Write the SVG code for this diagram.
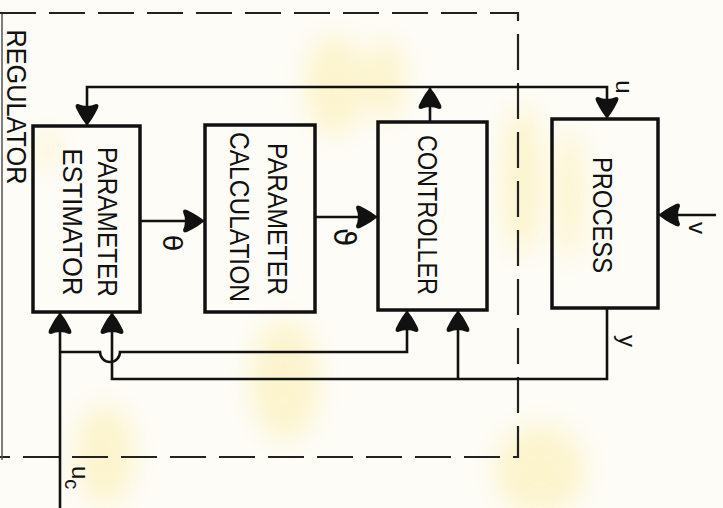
<svg xmlns="http://www.w3.org/2000/svg" width="723" height="508" viewBox="0 0 723 508">
  <defs>
    <style>
      .box { fill: none; stroke: #111; stroke-width: 3.5; }
      .wire { fill: none; stroke: #111; stroke-width: 2.6; }
      .dash { fill: none; stroke: #222; stroke-width: 2.2; stroke-dasharray: 36 13; }
      .lbl { font-family: "Liberation Sans", Arial, sans-serif; fill: #111; }
      .big { font-size: 27.5px; }
      .sym { font-size: 24px; }
    </style>
    <marker id="ah" viewBox="-23 -13 25 26" refX="0" refY="0" markerWidth="25" markerHeight="26" markerUnits="userSpaceOnUse" orient="auto">
      <path d="M0,0 Q-3,-4 -17,-11 Q-21,-12.5 -21,-9 Q-17,0 -21,9 Q-21,12.5 -17,11 Q-3,4 0,0 Z" fill="#111"/>
    </marker>
    <filter id="blur" x="-50%" y="-50%" width="200%" height="200%">
      <feGaussianBlur stdDeviation="12"/>
    </filter>
  </defs>

  <rect width="723" height="508" fill="#fdfcf6"/>
  <g id="stains" fill="#fbe57a" opacity="0.32" filter="url(#blur)">
    <ellipse cx="335" cy="85" rx="30" ry="50"/>
    <ellipse cx="385" cy="80" rx="20" ry="40"/>
    <ellipse cx="522" cy="180" rx="20" ry="75"/>
    <ellipse cx="570" cy="195" rx="14" ry="65"/>
    <ellipse cx="285" cy="380" rx="35" ry="60"/>
    <ellipse cx="105" cy="455" rx="30" ry="50"/>
    <ellipse cx="540" cy="470" rx="45" ry="45"/>
    <ellipse cx="48" cy="150" rx="10" ry="18"/>
  </g>

  <g id="regulator-boundary">
    <path class="dash" d="M0,13 H518 V457 H0"/>
    <line x1="2" y1="14" x2="2" y2="460" stroke="#555" stroke-width="1.5"/>
    <text class="lbl big" transform="translate(7,107) rotate(90)" text-anchor="middle" textLength="155" lengthAdjust="spacingAndGlyphs">REGULATOR</text>
  </g>

  <g id="parameter-estimator">
    <rect class="box" x="33" y="126" width="107" height="186"/>
    <text class="lbl big" transform="translate(98,222) rotate(90)" text-anchor="middle" textLength="150" lengthAdjust="spacingAndGlyphs">PARAMETER</text>
    <text class="lbl big" transform="translate(63,222) rotate(90)" text-anchor="middle" textLength="147" lengthAdjust="spacingAndGlyphs">ESTIMATOR</text>
  </g>

  <g id="parameter-calculation">
    <rect class="box" x="205" y="125" width="110" height="187"/>
    <text class="lbl big" transform="translate(268,219) rotate(90)" text-anchor="middle" textLength="152" lengthAdjust="spacingAndGlyphs">PARAMETER</text>
    <text class="lbl big" transform="translate(230,217) rotate(90)" text-anchor="middle" textLength="170" lengthAdjust="spacingAndGlyphs">CALCULATION</text>
  </g>

  <g id="controller">
    <rect class="box" x="378" y="122" width="109" height="188"/>
    <text class="lbl big" transform="translate(418,215) rotate(90)" text-anchor="middle" textLength="160" lengthAdjust="spacingAndGlyphs">CONTROLLER</text>
  </g>

  <g id="process">
    <rect class="box" x="552" y="119" width="106" height="189"/>
    <text class="lbl big" transform="translate(593,215) rotate(90)" text-anchor="middle" textLength="116" lengthAdjust="spacingAndGlyphs">PROCESS</text>
  </g>

  <g id="connectors">
    <path class="wire" d="M430,122 V88" marker-end="url(#ah)"/>
    <path class="wire" d="M430,87 H87 V125" marker-end="url(#ah)"/>
    <path class="wire" d="M430,87 H607 V118" marker-end="url(#ah)"/>
    <path class="wire" d="M140,221 H204" marker-end="url(#ah)"/>
    <path class="wire" d="M315,217 H377" marker-end="url(#ah)"/>
    <path class="wire" d="M716,215 H659" marker-end="url(#ah)"/>
    <path class="wire" d="M60,508 V313" marker-end="url(#ah)"/>
    <path class="wire" d="M60,352 H100 A10,10 0 0 0 120,352 H407 V311" marker-end="url(#ah)"/>
    <path class="wire" d="M607,308 V379 H112 V313" marker-end="url(#ah)"/>
    <path class="wire" d="M458,379 V311" marker-end="url(#ah)"/>
  </g>

  <g id="labels">
    <text class="lbl sym" transform="translate(616,87) rotate(90)" text-anchor="middle">u</text>
    <text class="lbl" style="font-family:'DejaVu Sans',sans-serif;font-size:27px" transform="translate(163,243) rotate(90)" text-anchor="middle">θ</text>
    <text class="lbl" style="font-family:'DejaVu Sans',sans-serif;font-size:30px" transform="translate(334,237) rotate(90)" text-anchor="middle">ϑ</text>
    <text class="lbl sym" transform="translate(689,228) rotate(90)" text-anchor="middle">v</text>
    <text class="lbl sym" transform="translate(619,341) rotate(90)" text-anchor="middle">y</text>
    <text class="lbl sym" transform="translate(72,466) rotate(90)">u<tspan dy="7" font-size="20">c</tspan></text>
  </g>
</svg>
